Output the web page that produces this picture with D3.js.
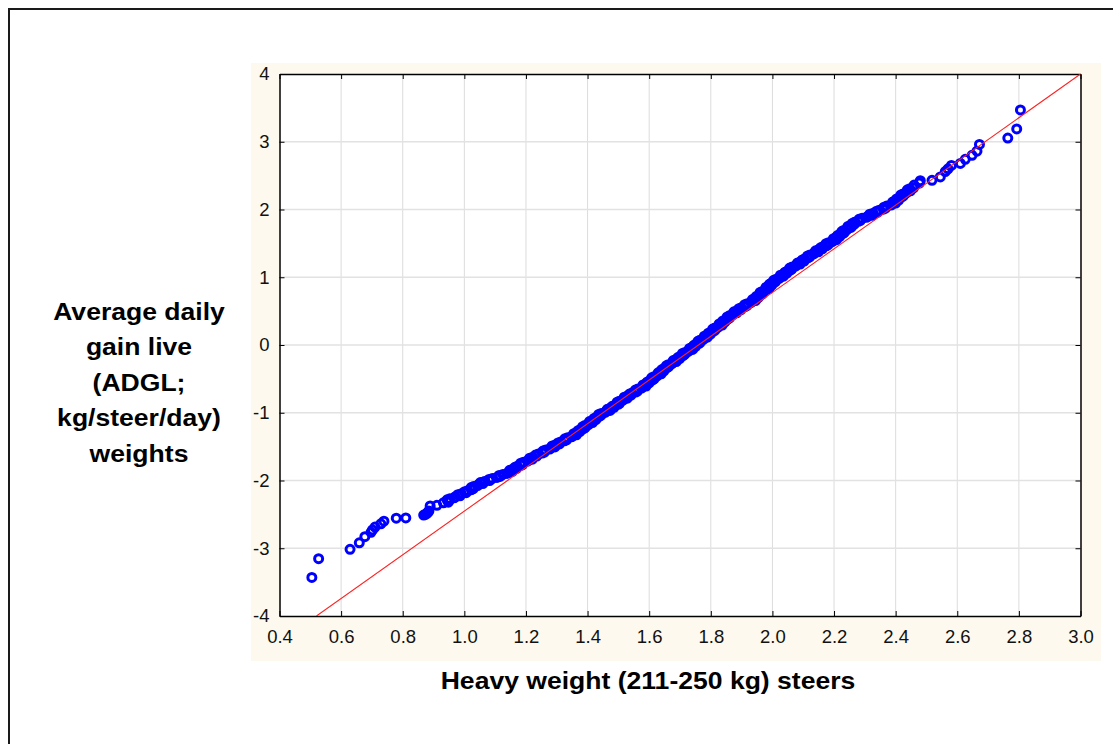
<!DOCTYPE html>
<html>
<head>
<meta charset="utf-8">
<script src="https://cdn.jsdelivr.net/npm/d3@7"></script>
<style>
  body { margin: 0; background: #fff; }
  svg { display: block; }
  text { font-family: Arial, "Liberation Sans", sans-serif; }
</style>
</head>
<body>
<script>
var obsX = [
  0.505, 0.527, 0.629, 0.659, 0.677, 0.697, 0.702, 0.710, 0.729, 0.739,
  0.779, 0.810, 0.868, 0.874, 0.878, 0.882, 0.885, 0.889, 0.911, 0.932, 0.948,
  0.950, 0.953, 0.971, 0.979, 1.006, 1.011, 1.029, 1.030, 1.046, 1.052,
  1.082, 1.091, 1.116, 1.125, 1.144, 1.147, 1.170, 1.172, 1.190, 1.192,
  1.208, 1.212, 1.235, 1.240, 1.260, 1.264, 1.281, 1.285, 1.309, 1.313,
  1.332, 1.335, 1.352, 1.355, 1.375, 1.376, 1.392, 1.391, 1.405, 1.406,
  1.427, 1.428, 1.443, 1.444, 1.460, 1.464, 1.486, 1.488, 1.504, 1.503,
  1.517, 1.519, 1.541, 1.544, 1.562, 1.563, 1.578, 1.580, 1.600, 1.601,
  1.616, 1.615, 1.628, 1.629, 1.648, 1.647, 1.663, 1.662, 1.676, 1.678,
  1.699, 1.700, 1.715, 1.716, 1.729, 1.731, 1.751, 1.752, 1.766, 1.765,
  1.778, 1.779, 1.799, 1.800, 1.814, 1.813, 1.826, 1.827, 1.846, 1.847,
  1.861, 1.860, 1.872, 1.875, 1.897, 1.899, 1.917, 1.918, 1.933, 1.935,
  1.954, 1.955, 1.968, 1.967, 1.978, 1.979, 1.997, 1.996, 2.011, 2.012,
  2.024, 2.026, 2.047, 2.048, 2.063, 2.064, 2.078, 2.081, 2.103, 2.104,
  2.121, 2.122, 2.137, 2.140, 2.162, 2.164, 2.181, 2.182, 2.197, 2.198,
  2.218, 2.219, 2.233, 2.231, 2.244, 2.245, 2.265, 2.266, 2.286, 2.291,
  2.310, 2.316, 2.342, 2.347, 2.367, 2.371, 2.389, 2.390, 2.410, 2.411,
  2.425, 2.424, 2.437, 2.438, 2.458, 2.460, 2.477, 2.480,
  2.518, 2.545, 2.561, 2.570, 2.581, 2.610, 2.626, 2.648, 2.664, 2.672,
  2.764, 2.793, 2.805
];
var expY = [
  -3.43, -3.154, -3.016, -2.92, -2.83, -2.765, -2.73, -2.687, -2.64, -2.60,
  -2.556, -2.553, -2.51, -2.50, -2.485, -2.47, -2.45, -2.376, -2.366, -2.33, -2.32,
  -2.30, -2.27, -2.24, -2.21, -2.18, -2.15, -2.12, -2.09, -2.06, -2.03,
  -2.00, -1.97, -1.94, -1.91, -1.88, -1.85, -1.82, -1.79, -1.76, -1.73,
  -1.70, -1.67, -1.64, -1.61, -1.58, -1.55, -1.52, -1.49, -1.46, -1.43,
  -1.40, -1.37, -1.34, -1.31, -1.28, -1.25, -1.22, -1.19, -1.16, -1.13,
  -1.10, -1.07, -1.04, -1.01, -0.98, -0.95, -0.92, -0.89, -0.86, -0.83,
  -0.80, -0.77, -0.74, -0.71, -0.68, -0.65, -0.62, -0.59, -0.56, -0.53,
  -0.50, -0.47, -0.44, -0.41, -0.38, -0.35, -0.32, -0.29, -0.26, -0.23,
  -0.20, -0.17, -0.14, -0.11, -0.08, -0.05, -0.02, 0.01, 0.04, 0.07,
  0.10, 0.13, 0.16, 0.19, 0.22, 0.25, 0.28, 0.31, 0.34, 0.37,
  0.40, 0.43, 0.46, 0.49, 0.52, 0.55, 0.58, 0.61, 0.64, 0.67,
  0.70, 0.73, 0.76, 0.79, 0.82, 0.85, 0.88, 0.91, 0.94, 0.97,
  1.00, 1.03, 1.06, 1.09, 1.12, 1.15, 1.18, 1.21, 1.24, 1.27,
  1.30, 1.33, 1.36, 1.39, 1.42, 1.45, 1.48, 1.51, 1.54, 1.57,
  1.60, 1.63, 1.66, 1.69, 1.72, 1.75, 1.78, 1.81, 1.84, 1.87,
  1.90, 1.93, 1.96, 1.99, 2.02, 2.05, 2.08, 2.11, 2.14, 2.17,
  2.20, 2.23, 2.26, 2.29, 2.32, 2.36, 2.39, 2.425,
  2.43, 2.48, 2.56, 2.60, 2.65, 2.68, 2.74, 2.80, 2.86, 2.96,
  3.055, 3.19, 3.47
];

// the dense middle of the band: further points between the ones above
var bandX = [
  0.944, 0.967, 0.986, 0.990, 1.001, 1.023, 1.022, 1.043, 1.060, 1.065,
  1.080, 1.106, 1.113, 1.139, 1.156, 1.157, 1.164, 1.184, 1.183, 1.205,
  1.221, 1.222, 1.231, 1.253, 1.255, 1.277, 1.294, 1.295, 1.304, 1.325,
  1.326, 1.348, 1.364, 1.363, 1.369, 1.387, 1.384, 1.403, 1.416, 1.415,
  1.421, 1.438, 1.436, 1.457, 1.473, 1.473, 1.480, 1.499, 1.496, 1.515,
  1.529, 1.528, 1.536, 1.556, 1.555, 1.575, 1.590, 1.588, 1.594, 1.611,
  1.608, 1.626, 1.639, 1.637, 1.641, 1.658, 1.656, 1.674, 1.688, 1.687,
  1.693, 1.710, 1.708, 1.727, 1.741, 1.739, 1.745, 1.762, 1.758, 1.776,
  1.789, 1.787, 1.792, 1.809, 1.806, 1.824, 1.837, 1.834, 1.839, 1.856,
  1.853, 1.871, 1.884, 1.885, 1.891, 1.911, 1.910, 1.930, 1.945, 1.943,
  1.947, 1.964, 1.960, 1.977, 1.989, 1.986, 1.990, 2.006, 2.004, 2.022,
  2.036, 2.035, 2.041, 2.058, 2.056, 2.075, 2.090, 2.091, 2.097, 2.115,
  2.114, 2.134, 2.149, 2.150, 2.156, 2.175, 2.174, 2.194, 2.208, 2.206,
  2.211, 2.228, 2.225, 2.242, 2.255, 2.253, 2.259, 2.279, 2.281, 2.305,
  2.324, 2.327, 2.338, 2.360, 2.362, 2.385, 2.400, 2.398, 2.403, 2.420,
  2.417, 2.435, 2.448, 2.446
];
var bandY = [
  -2.285, -2.255, -2.225, -2.195, -2.165, -2.135, -2.105, -2.075, -2.045, -2.015,
  -1.985, -1.955, -1.925, -1.895, -1.865, -1.835, -1.805, -1.775, -1.745, -1.715,
  -1.685, -1.655, -1.625, -1.595, -1.565, -1.535, -1.505, -1.475, -1.445, -1.415,
  -1.385, -1.355, -1.325, -1.295, -1.265, -1.235, -1.205, -1.175, -1.145, -1.115,
  -1.085, -1.055, -1.025, -0.995, -0.965, -0.935, -0.905, -0.875, -0.845, -0.815,
  -0.785, -0.755, -0.725, -0.695, -0.665, -0.635, -0.605, -0.575, -0.545, -0.515,
  -0.485, -0.455, -0.425, -0.395, -0.365, -0.335, -0.305, -0.275, -0.245, -0.215,
  -0.185, -0.155, -0.125, -0.095, -0.065, -0.035, -0.005, 0.025, 0.055, 0.085,
  0.115, 0.145, 0.175, 0.205, 0.235, 0.265, 0.295, 0.325, 0.355, 0.385,
  0.415, 0.445, 0.475, 0.505, 0.535, 0.565, 0.595, 0.625, 0.655, 0.685,
  0.715, 0.745, 0.775, 0.805, 0.835, 0.865, 0.895, 0.925, 0.955, 0.985,
  1.015, 1.045, 1.075, 1.105, 1.135, 1.165, 1.195, 1.225, 1.255, 1.285,
  1.315, 1.345, 1.375, 1.405, 1.435, 1.465, 1.495, 1.525, 1.555, 1.585,
  1.615, 1.645, 1.675, 1.705, 1.735, 1.765, 1.795, 1.825, 1.855, 1.885,
  1.915, 1.945, 1.975, 2.005, 2.035, 2.065, 2.095, 2.125, 2.155, 2.185,
  2.215, 2.245, 2.275, 2.305
];

// fitted normal line
var fitX = [0.52, 3.0];
var fitY = [-4, 4];

var xTicks = [0.4, 0.6, 0.8, 1.0, 1.2, 1.4, 1.6, 1.8, 2.0, 2.2, 2.4, 2.6, 2.8, 3.0];
var yTicks = [-4, -3, -2, -1, 0, 1, 2, 3, 4];

var yTitle = ["Average daily", "gain live", "(ADGL;", "kg/steer/day)", "weights"];
var xTitle = "Heavy weight (211-250 kg) steers";

var width = 1113,
    height = 744;

var plot = {left: 279.5, right: 1080.5, top: 74, bottom: 616};

var svg = d3.select("body").append("svg")
    .attr("width", width)
    .attr("height", height);

// outer frame (runs off the right and bottom edges)
svg.append("rect")
    .attr("x", 9).attr("y", 9)
    .attr("width", 1200).attr("height", 900)
    .attr("fill", "none")
    .attr("stroke", "#1a1a1a")
    .attr("stroke-width", 2);

// cream panel behind the plot
svg.append("rect")
    .attr("x", 251).attr("y", 63)
    .attr("width", 850).attr("height", 598)
    .attr("fill", "#fdf9ee");

svg.append("rect")
    .attr("x", plot.left).attr("y", plot.top)
    .attr("width", plot.right - plot.left).attr("height", plot.bottom - plot.top)
    .attr("fill", "#fff");

var x = d3.scaleLinear().domain([0.4, 3.0]).range([plot.left, plot.right]);
var y = d3.scaleLinear().domain([-4, 4]).range([plot.bottom, plot.top]);

// grid
svg.append("g").selectAll("line")
    .data(xTicks.slice(1, -1))
    .enter().append("line")
    .attr("x1", d => x(d)).attr("x2", d => x(d))
    .attr("y1", plot.top).attr("y2", plot.bottom)
    .attr("stroke", "#dcdcdc").attr("stroke-width", 1);

svg.append("g").selectAll("line")
    .data(yTicks.slice(1, -1))
    .enter().append("line")
    .attr("x1", plot.left).attr("x2", plot.right)
    .attr("y1", d => y(d)).attr("y2", d => y(d))
    .attr("stroke", "#e2e2e2").attr("stroke-width", 1.5);

// axes with inward ticks
var tickFmt = d3.format(".1f");
var axB = svg.append("g").attr("transform", `translate(0,${plot.bottom})`)
    .call(d3.axisBottom(x).tickValues(xTicks).tickFormat(tickFmt).tickSizeInner(-5).tickSizeOuter(0).tickPadding(14));
var axT = svg.append("g").attr("transform", `translate(0,${plot.top})`)
    .call(d3.axisTop(x).tickValues(xTicks).tickFormat("").tickSizeInner(-5).tickSizeOuter(0));
var axL = svg.append("g").attr("transform", `translate(${plot.left},0)`)
    .call(d3.axisLeft(y).tickValues(yTicks).tickFormat(d => String(d)).tickSizeInner(-5).tickSizeOuter(0).tickPadding(10));
var axR = svg.append("g").attr("transform", `translate(${plot.right},0)`)
    .call(d3.axisRight(y).tickValues(yTicks).tickFormat("").tickSizeInner(-5).tickSizeOuter(0));

[axB, axT, axL, axR].forEach(function (g) {
    g.select(".domain").attr("stroke", "#000").attr("stroke-width", 1.5);
    g.selectAll(".tick line").attr("stroke", "#000");
    g.selectAll("text")
        .attr("font-family", "Arial, 'Liberation Sans', sans-serif")
        .attr("font-size", 18.5)
        .attr("fill", "#111");
});
axB.selectAll("text").attr("dy", "0.71em");

// points
var points = obsX.map((v, i) => ({x: v, y: expY[i]}))
    .concat(bandX.map((v, i) => ({x: v, y: bandY[i]})));
svg.append("g").selectAll("circle")
    .data(points)
    .enter().append("circle")
    .attr("cx", d => x(d.x))
    .attr("cy", d => y(d.y))
    .attr("r", 4)
    .attr("fill", "none")
    .attr("stroke", "#0000ff")
    .attr("stroke-width", 3);

// fitted line, clipped to plot, drawn over the points
svg.append("clipPath").attr("id", "clip")
    .append("rect")
    .attr("x", plot.left).attr("y", plot.top)
    .attr("width", plot.right - plot.left).attr("height", plot.bottom - plot.top);

svg.append("line")
    .attr("clip-path", "url(#clip)")
    .attr("x1", x(fitX[0])).attr("y1", y(fitY[0]))
    .attr("x2", x(fitX[1])).attr("y2", y(fitY[1]))
    .attr("stroke", "#ff2020")
    .attr("stroke-width", 1.1);

// titles (slightly wide lettering, as in the reference)
var yt = svg.append("text")
    .attr("transform", "translate(139,0) scale(1.13,1)")
    .attr("text-anchor", "middle")
    .attr("font-weight", "bold")
    .attr("font-size", 23.5)
    .attr("fill", "#000");
yt.selectAll("tspan")
    .data(yTitle)
    .enter().append("tspan")
    .attr("x", 0)
    .attr("y", (d, i) => 320 + i * 35.5)
    .text(d => d);

svg.append("text")
    .attr("transform", "translate(648,689) scale(1.13,1)")
    .attr("text-anchor", "middle")
    .attr("font-weight", "bold")
    .attr("font-size", 23.5)
    .attr("fill", "#000")
    .text(xTitle);
</script>
</body>
</html>
